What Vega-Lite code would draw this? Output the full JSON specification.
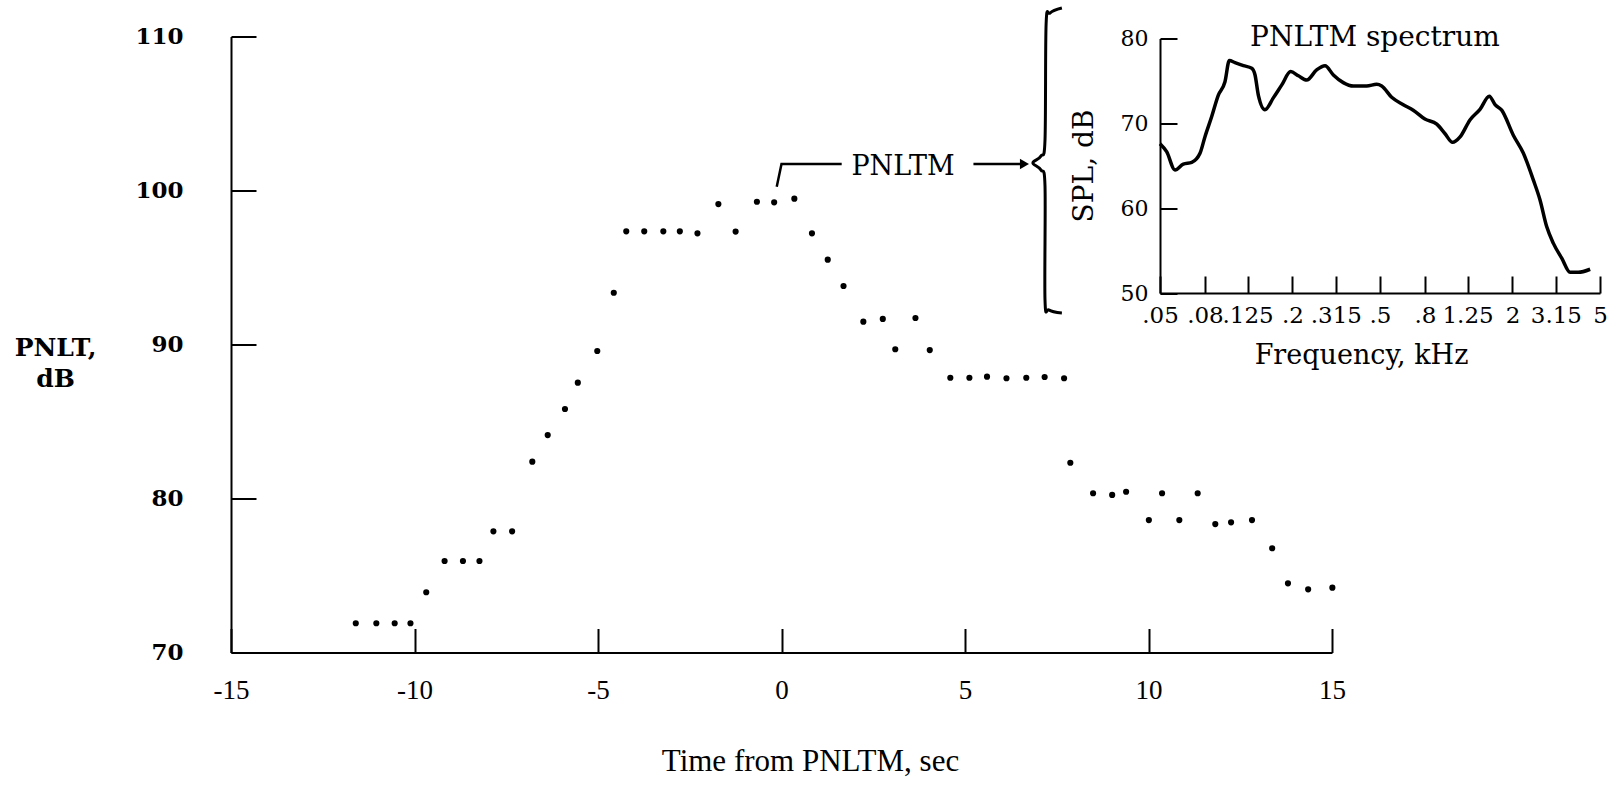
{
  "$schema": "https://vega.github.io/schema/vega-lite/v6.json",
  "width": 1101,
  "height": 616,
  "autosize": {"type": "none"},
  "padding": {"left": 231, "top": 36.5, "right": 291, "bottom": 132.5},
  "background": "white",
  "config": {"view": {"stroke": null}, "font": "DejaVu Serif"},
  "datasets": {
    "pnlt": [
      {"t": -11.60, "db": 71.9}, {"t": -11.04, "db": 71.9}, {"t": -10.54, "db": 71.9}, {"t": -10.11, "db": 71.9},
      {"t": -9.68, "db": 73.91}, {"t": -9.18, "db": 75.94}, {"t": -8.68, "db": 75.94}, {"t": -8.23, "db": 75.94},
      {"t": -7.85, "db": 77.87}, {"t": -7.34, "db": 77.87}, {"t": -6.79, "db": 82.39}, {"t": -6.37, "db": 84.12},
      {"t": -5.90, "db": 85.81}, {"t": -5.55, "db": 87.52}, {"t": -5.02, "db": 89.58}, {"t": -4.57, "db": 93.36},
      {"t": -4.23, "db": 97.35}, {"t": -3.74, "db": 97.35}, {"t": -3.22, "db": 97.35}, {"t": -2.77, "db": 97.35},
      {"t": -2.29, "db": 97.22}, {"t": -1.72, "db": 99.12}, {"t": -1.25, "db": 97.33}, {"t": -0.67, "db": 99.27},
      {"t": -0.20, "db": 99.23}, {"t": 0.35, "db": 99.47}, {"t": 0.83, "db": 97.22}, {"t": 1.26, "db": 95.51},
      {"t": 1.69, "db": 93.8}, {"t": 2.23, "db": 91.48}, {"t": 2.76, "db": 91.66}, {"t": 3.10, "db": 89.69},
      {"t": 3.65, "db": 91.72}, {"t": 4.04, "db": 89.64}, {"t": 4.60, "db": 87.84}, {"t": 5.12, "db": 87.84},
      {"t": 5.60, "db": 87.91}, {"t": 6.13, "db": 87.81}, {"t": 6.67, "db": 87.84}, {"t": 7.17, "db": 87.89},
      {"t": 7.70, "db": 87.81}, {"t": 7.87, "db": 82.32}, {"t": 8.49, "db": 80.34}, {"t": 9.01, "db": 80.23},
      {"t": 9.39, "db": 80.44}, {"t": 10.01, "db": 78.6}, {"t": 10.37, "db": 80.34}, {"t": 10.84, "db": 78.6},
      {"t": 11.34, "db": 80.34}, {"t": 11.82, "db": 78.34}, {"t": 12.25, "db": 78.45}, {"t": 12.82, "db": 78.6},
      {"t": 13.37, "db": 76.77}, {"t": 13.80, "db": 74.49}, {"t": 14.35, "db": 74.1}, {"t": 15.01, "db": 74.21}
    ],
    "spectrum": [
      {"f": 0.05, "spl": 67.6}, {"f": 0.0536, "spl": 66.66}, {"f": 0.0585, "spl": 64.5}, {"f": 0.0638, "spl": 65.2},
      {"f": 0.0697, "spl": 65.4}, {"f": 0.076, "spl": 66.47}, {"f": 0.08, "spl": 68.4}, {"f": 0.0859, "spl": 70.8},
      {"f": 0.092, "spl": 73.3}, {"f": 0.0987, "spl": 74.9}, {"f": 0.1033, "spl": 77.4}, {"f": 0.1096, "spl": 77.15},
      {"f": 0.1197, "spl": 76.8}, {"f": 0.1306, "spl": 76.5}, {"f": 0.1352, "spl": 75.7}, {"f": 0.14, "spl": 73.3},
      {"f": 0.15, "spl": 71.6}, {"f": 0.1637, "spl": 73.0}, {"f": 0.1786, "spl": 74.5}, {"f": 0.1963, "spl": 76.1},
      {"f": 0.2128, "spl": 75.6}, {"f": 0.2322, "spl": 75.1}, {"f": 0.2576, "spl": 76.3}, {"f": 0.2812, "spl": 76.8},
      {"f": 0.3069, "spl": 75.7}, {"f": 0.3404, "spl": 74.8}, {"f": 0.3784, "spl": 74.4}, {"f": 0.435, "spl": 74.4},
      {"f": 0.483, "spl": 74.6}, {"f": 0.509, "spl": 74.4}, {"f": 0.565, "spl": 73.07}, {"f": 0.638, "spl": 72.2},
      {"f": 0.708, "spl": 71.55}, {"f": 0.8, "spl": 70.5}, {"f": 0.906, "spl": 69.9}, {"f": 0.986, "spl": 68.8},
      {"f": 1.069, "spl": 67.76}, {"f": 1.156, "spl": 68.4}, {"f": 1.282, "spl": 70.4}, {"f": 1.424, "spl": 71.65},
      {"f": 1.57, "spl": 73.2}, {"f": 1.667, "spl": 72.2}, {"f": 1.787, "spl": 71.55}, {"f": 2.018, "spl": 68.6},
      {"f": 2.24, "spl": 66.5}, {"f": 2.49, "spl": 63.3}, {"f": 2.667, "spl": 61.0}, {"f": 2.864, "spl": 57.8},
      {"f": 3.07, "spl": 55.85}, {"f": 3.35, "spl": 54.1}, {"f": 3.656, "spl": 52.44}, {"f": 3.98, "spl": 52.44},
      {"f": 4.51, "spl": 52.8}
    ],
    "brace": [
      {"i": 1, "t": 7.64, "db": 111.85}, {"i": 2, "t": 7.32, "db": 111.53}, {"i": 3, "t": 7.21, "db": 110.81},
      {"i": 4, "t": 7.18, "db": 103.28}, {"i": 5, "t": 7.07, "db": 102.24}, {"i": 6, "t": 6.85, "db": 101.79},
      {"i": 7, "t": 7.07, "db": 101.33}, {"i": 8, "t": 7.18, "db": 100.29}, {"i": 9, "t": 7.18, "db": 92.89},
      {"i": 10, "t": 7.29, "db": 92.24}, {"i": 11, "t": 7.64, "db": 92.05}
    ],
    "bracket": [
      {"i": 1, "t": -0.13, "db": 100.25}, {"i": 2, "t": 0.0, "db": 101.72}, {"i": 3, "t": 1.64, "db": 101.72}
    ],
    "arrow": [
      {"i": 1, "t": 5.23, "db": 101.72}, {"i": 2, "t": 6.55, "db": 101.72}
    ]
  },
  "layer": [
    {
      "layer": [
        {
          "data": {"name": "pnlt"},
          "mark": {"type": "circle", "size": 38, "color": "black", "opacity": 1},
          "encoding": {
            "x": {
              "field": "t", "type": "quantitative",
              "scale": {"domain": [-15, 15], "nice": false, "zero": false},
              "axis": {
                "orient": "bottom", "title": "Time from PNLTM, sec",
                "values": [-15, -10, -5, 0, 5, 10, 15],
                "labelExpr": "toString(datum.value)",
                "grid": false, "domainColor": "black", "domainWidth": 2,
                "tickColor": "black", "tickWidth": 2, "tickSize": -24,
                "labelPadding": 49, "labelFont": "Liberation Serif", "labelFontSize": 27,
                "labelColor": "black", "labelFlush": false, "labelOverlap": false,
                "titleFont": "Liberation Serif", "titleFontSize": 31, "titleFontWeight": "normal",
                "titleColor": "black", "titleX": 579, "titleY": 118, "titleBaseline": "alphabetic", "titleAlign": "center"
              }
            },
            "y": {
              "field": "db", "type": "quantitative",
              "scale": {"domain": [70, 110], "nice": false, "zero": false},
              "axis": {
                "orient": "left", "title": ["PNLT,", "dB"],
                "values": [70, 80, 90, 100, 110],
                "grid": false, "domainColor": "black", "domainWidth": 2,
                "tickColor": "black", "tickWidth": 2, "tickSize": -25,
                "labelPadding": 73, "labelFont": "DejaVu Serif", "labelFontSize": 23, "labelFontWeight": "bold",
                "labelColor": "black", "labelFlush": false, "labelOverlap": false,
                "titleFont": "DejaVu Serif", "titleFontSize": 25, "titleFontWeight": "bold",
                "titleColor": "black", "titleAngle": 0, "titleAlign": "center", "titleBaseline": "top",
                "titleX": -176, "titleY": 299, "titleLineHeight": 31
              }
            }
          }
        },
        {
          "data": {"name": "bracket"},
          "mark": {"type": "line", "color": "black", "strokeWidth": 2.5},
          "encoding": {
            "x": {"field": "t", "type": "quantitative"},
            "y": {"field": "db", "type": "quantitative"},
            "order": {"field": "i"}
          }
        },
        {
          "data": {"name": "arrow"},
          "mark": {"type": "line", "color": "black", "strokeWidth": 2.5},
          "encoding": {
            "x": {"field": "t", "type": "quantitative"},
            "y": {"field": "db", "type": "quantitative"},
            "order": {"field": "i"}
          }
        },
        {
          "data": {"name": "brace"},
          "mark": {"type": "line", "color": "black", "strokeWidth": 3, "interpolate": "cardinal"},
          "encoding": {
            "x": {"field": "t", "type": "quantitative"},
            "y": {"field": "db", "type": "quantitative"},
            "order": {"field": "i"}
          }
        },
        {
          "data": {"values": [{}]},
          "mark": {"type": "point", "shape": "triangle-right", "filled": true, "color": "black", "opacity": 1, "size": 110},
          "encoding": {
            "x": {"datum": 6.62, "type": "quantitative"},
            "y": {"datum": 101.72, "type": "quantitative"}
          }
        },
        {
          "data": {"values": [{"label": "PNLTM"}]},
          "mark": {"type": "text", "font": "DejaVu Serif", "fontSize": 27, "color": "black", "align": "center", "baseline": "alphabetic"},
          "encoding": {
            "x": {"datum": 3.31, "type": "quantitative"},
            "y": {"datum": 101.0, "type": "quantitative"},
            "text": {"field": "label"}
          }
        }
      ]
    },
    {
      "layer": [
        {
          "data": {"name": "spectrum"},
          "mark": {"type": "line", "color": "black", "strokeWidth": 3.5, "interpolate": "monotone"},
          "encoding": {
            "x": {
              "field": "f", "type": "quantitative",
              "scale": {"type": "log", "domain": [0.05, 5], "range": [929, 1369], "nice": false},
              "axis": {
                "orient": "bottom", "offset": -359.5, "title": "Frequency, kHz",
                "values": [0.05, 0.08, 0.125, 0.2, 0.315, 0.5, 0.8, 1.25, 2, 3.15, 5],
                "labelExpr": "datum.value < 1 ? slice(toString(datum.value), 1) : toString(datum.value)",
                "grid": false, "domainColor": "black", "domainWidth": 2,
                "tickColor": "black", "tickWidth": 2, "tickSize": -17,
                "labelPadding": 28, "labelFont": "DejaVu Serif", "labelFontSize": 23,
                "labelColor": "black", "labelFlush": false, "labelOverlap": false, "labelBound": false,
                "titleFont": "DejaVu Serif", "titleFontSize": 27, "titleFontWeight": "normal",
                "titleColor": "black", "titleX": 1130, "titleY": 70, "titleBaseline": "alphabetic", "titleAlign": "center"
              }
            },
            "y": {
              "field": "spl", "type": "quantitative",
              "scale": {"domain": [50, 80], "range": [256.5, 2], "nice": false, "zero": false},
              "axis": {
                "orient": "left", "offset": -929, "title": "SPL,  dB",
                "values": [50, 60, 70, 80],
                "grid": false, "domainColor": "black", "domainWidth": 2,
                "tickColor": "black", "tickWidth": 2, "tickSize": -17,
                "labelPadding": 29, "labelFont": "DejaVu Serif", "labelFontSize": 22,
                "labelColor": "black", "labelFlush": false, "labelOverlap": false,
                "titleFont": "DejaVu Serif", "titleFontSize": 28, "titleFontWeight": "normal",
                "titleColor": "black", "titleAngle": 270, "titleAlign": "center", "titleBaseline": "middle",
                "titleX": -76, "titleY": 129
              }
            }
          }
        },
        {
          "data": {"values": [{"label": "PNLTM  spectrum"}]},
          "mark": {"type": "text", "font": "DejaVu Serif", "fontSize": 28, "color": "black", "align": "center", "baseline": "alphabetic"},
          "encoding": {
            "x": {"datum": 0.474, "type": "quantitative"},
            "y": {"datum": 79.1, "type": "quantitative"},
            "text": {"field": "label"}
          }
        }
      ]
    }
  ],
  "resolve": {
    "scale": {"x": "independent", "y": "independent"},
    "axis": {"x": "independent", "y": "independent"}
  }
}
